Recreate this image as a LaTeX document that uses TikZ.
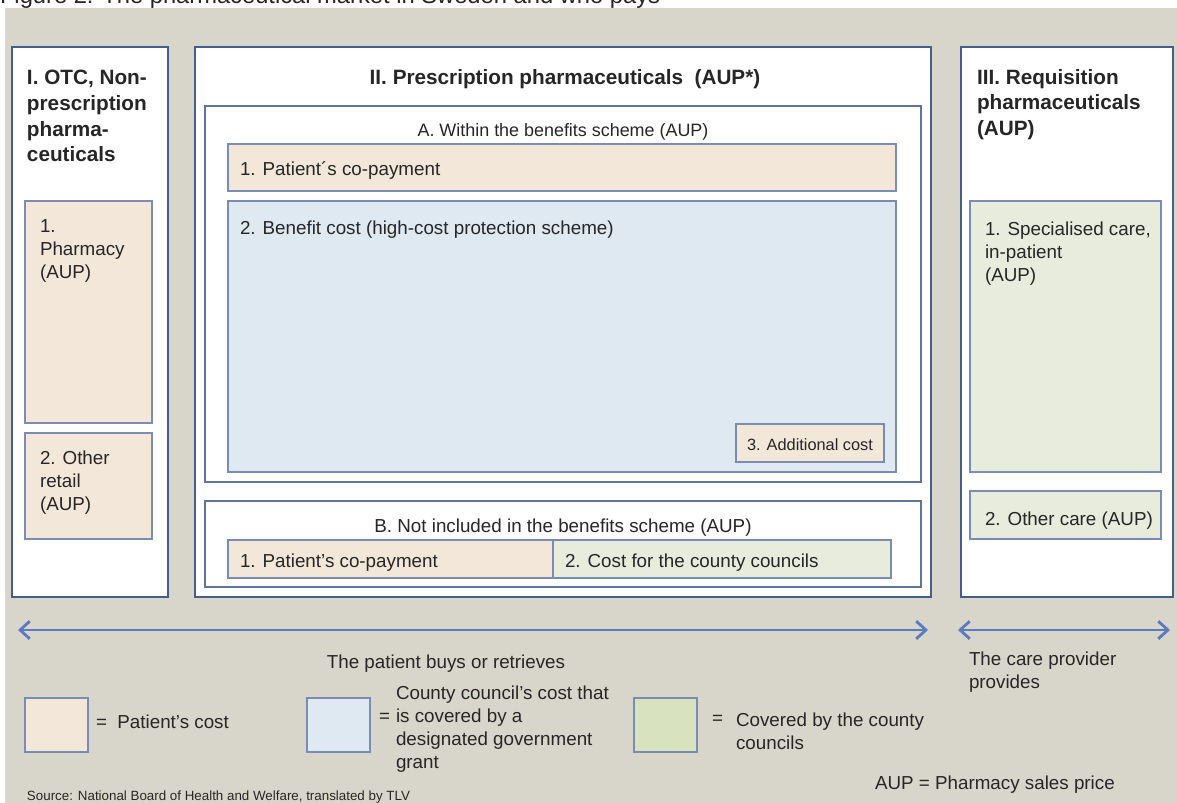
\documentclass[tikz,border=0pt]{standalone}
\usepackage{fontspec}
\setmainfont{Liberation Sans}
\usetikzlibrary{arrows.meta}
\newcommand{\px}{0.02cm}
\definecolor{bggray}{RGB}{216,214,202}
\definecolor{panelblue}{RGB}{68,92,142}
\definecolor{frameblue}{RGB}{96,116,160}
\definecolor{boxblue}{RGB}{122,140,180}
\definecolor{patientfill}{RGB}{243,231,217}
\definecolor{grantfill}{RGB}{222,233,242}
\definecolor{councilfill}{RGB}{232,236,221}
\definecolor{councilkey}{RGB}{216,226,190}
\definecolor{arrowblue}{RGB}{92,122,192}
\newcommand{\txt}{\fontsize{10.7}{13}\selectfont}
\newcommand{\hdr}{\fontsize{11.8}{14.7}\selectfont\bfseries}

\begin{document}
\begin{tikzpicture}
\tikzstyle{every node}=[inner sep=0pt, outer sep=0pt, text=black!85]
\tikzstyle{panel}=[draw=panelblue, line width=1.6pt, fill=white, anchor=north west]
\tikzstyle{frame}=[draw=frameblue, line width=1.1pt, fill=white, anchor=north west]
\tikzstyle{cost}=[draw=boxblue, line width=0.9pt, anchor=north west]
\tikzstyle{label}=[align=left, anchor=north west, font=\txt]
\tikzstyle{span}=[arrowblue, line width=1.6pt, {Straight Barb[length=5.5pt,width=10pt]}-{Straight Barb[length=5.5pt,width=10pt]}]

\useasboundingbox (0,0) rectangle (1177*\px,-803*\px);
\fill[white] (0,0) rectangle (1177*\px,-803*\px);
\fill[bggray] (5*\px,-8*\px) rectangle (1177*\px,-803*\px);
\begin{scope}
\clip (0,0) rectangle (1177*\px,-8*\px);
\node[anchor=base west, font=\fontsize{13.5}{16}\selectfont] (caption) at (0,-4*\px) {Figure 2: The pharmaceutical market in Sweden and who pays};
\end{scope}

% the three panels
\node[panel, minimum width=156*\px, minimum height=550*\px] (otc) at (12*\px,-47*\px) {};
\node[panel, minimum width=736*\px, minimum height=550*\px] (rx) at (195*\px,-47*\px) {};
\node[panel, minimum width=212*\px, minimum height=550*\px] (req) at (961*\px,-47*\px) {};

\node[label, font=\hdr] (otctitle) at ([shift={(15*\px,-23*\px)}]otc.north west) {I. OTC, Non-\\prescription\\pharma-\\ceuticals};
\node[font=\hdr] (rxtitle) at ([shift={(2*\px,-32*\px)}]rx.north) {II. Prescription pharmaceuticals\ \ (AUP*)};
\node[label, font=\hdr] (reqtitle) at ([shift={(16*\px,-22*\px)}]req.north west) {III. Requisition\\pharmaceuticals\\(AUP)};

% I. OTC
\node[cost, fill=patientfill, minimum width=127*\px, minimum height=222*\px] (pharmacy) at (25*\px,-201*\px) {};
\node[cost, fill=patientfill, minimum width=127*\px, minimum height=106*\px] (retail) at (25*\px,-433*\px) {};
\node[label] (pharmacytext) at ([shift={(15*\px,-19*\px)}]pharmacy.north west) {1.\\Pharmacy\\(AUP)};
\node[label] (retailtext) at ([shift={(15*\px,-18*\px)}]retail.north west) {2. Other\\retail\\(AUP)};

% II. A
\node[frame, minimum width=716*\px, minimum height=376*\px] (within) at (205*\px,-106*\px) {};
\node[font=\fontsize{10.2}{12}\selectfont] (withintitle) at ([yshift=-26*\px]within.north) {A. Within the benefits scheme (AUP)};
\node[cost, fill=patientfill, minimum width=668*\px, minimum height=47*\px] (copay) at (228*\px,-144*\px) {};
\node[anchor=west, font=\txt] (copaytext) at ([shift={(12*\px,-3*\px)}]copay.west) {1. Patient´s co-payment};
\node[cost, fill=grantfill, minimum width=668*\px, minimum height=271*\px] (benefit) at (228*\px,-201*\px) {};
\node[anchor=west, font=\txt] (benefittext) at ([shift={(12*\px,-29*\px)}]benefit.north west) {2. Benefit cost (high-cost protection scheme)};
\node[cost, fill=patientfill, minimum width=148*\px, minimum height=38*\px] (extra) at (736*\px,-424*\px) {};
\node[font=\fontsize{9.3}{11}\selectfont] (extratext) at ([yshift=-2*\px]extra.center) {3. Additional cost};

% II. B
\node[frame, minimum width=716*\px, minimum height=86*\px] (outside) at (205*\px,-501*\px) {};
\node[font=\txt] (outsidetitle) at ([yshift=-27*\px]outside.north) {B. Not included in the benefits scheme (AUP)};
\node[cost, fill=patientfill, minimum width=325*\px, minimum height=38*\px] (outcopay) at (228*\px,-540*\px) {};
\node[cost, fill=councilfill, minimum width=338*\px, minimum height=38*\px] (outcouncil) at (553*\px,-540*\px) {};
\node[anchor=west, font=\txt] (outcopaytext) at ([shift={(12*\px,-4*\px)}]outcopay.west) {1. Patient’s co-payment};
\node[anchor=west, font=\txt] (outcounciltext) at ([shift={(12*\px,-4*\px)}]outcouncil.west) {2. Cost for the county councils};

% III. Requisition
\node[cost, fill=councilfill, minimum width=191*\px, minimum height=271*\px] (inpatient) at (970*\px,-201*\px) {};
\node[cost, fill=councilfill, minimum width=191*\px, minimum height=48*\px] (othercare) at (970*\px,-491*\px) {};
\node[label] (inpatienttext) at ([shift={(15*\px,-21*\px)}]inpatient.north west) {1. Specialised care,\\in-patient\\(AUP)};
\node[anchor=west, font=\txt] (othercaretext) at ([shift={(15*\px,-6*\px)}]othercare.west) {2. Other care (AUP)};

% who buys
\coordinate (buyL) at (18*\px,-630*\px);
\coordinate (buyR) at (928*\px,-630*\px);
\coordinate (careL) at (958*\px,-630*\px);
\coordinate (careR) at (1170*\px,-630*\px);
\draw[span] (buyL) -- (buyR);
\draw[span] (careL) -- (careR);
\node[font=\txt] (buytext) at (446*\px,-664*\px) {The patient buys or retrieves};
\node[label] (caretext) at (969*\px,-652*\px) {The care provider\\provides};

% key
\node[cost, fill=patientfill, minimum width=63*\px, minimum height=54*\px] (keypatient) at (25*\px,-698*\px) {};
\node[cost, fill=grantfill, minimum width=63*\px, minimum height=54*\px] (keygrant) at (307*\px,-698*\px) {};
\node[cost, fill=councilkey, minimum width=63*\px, minimum height=54*\px] (keycouncil) at (634*\px,-698*\px) {};
\node[anchor=west, font=\txt] (keypatienttext) at ([shift={(8*\px,3*\px)}]keypatient.east) {=\ \ Patient’s cost};
\node[anchor=west, font=\txt] (keygranteq) at ([shift={(9*\px,7*\px)}]keygrant.east) {=};
\node[label] (keygranttext) at (396*\px,-686*\px) {County council’s cost that\\is covered by a\\designated government\\grant};
\node[anchor=west, font=\txt] (keycouncileq) at ([shift={(15*\px,5*\px)}]keycouncil.east) {=};
\node[label] (keycounciltext) at (736*\px,-713*\px) {Covered by the county\\councils};

\node[anchor=west, font=\txt] (aup) at (875*\px,-785*\px) {AUP = Pharmacy sales price};
\node[anchor=west, font=\fontsize{7.6}{9}\selectfont] (source) at (27*\px,-797*\px) {Source: National Board of Health and Welfare, translated by TLV};
\end{tikzpicture}
\end{document}
